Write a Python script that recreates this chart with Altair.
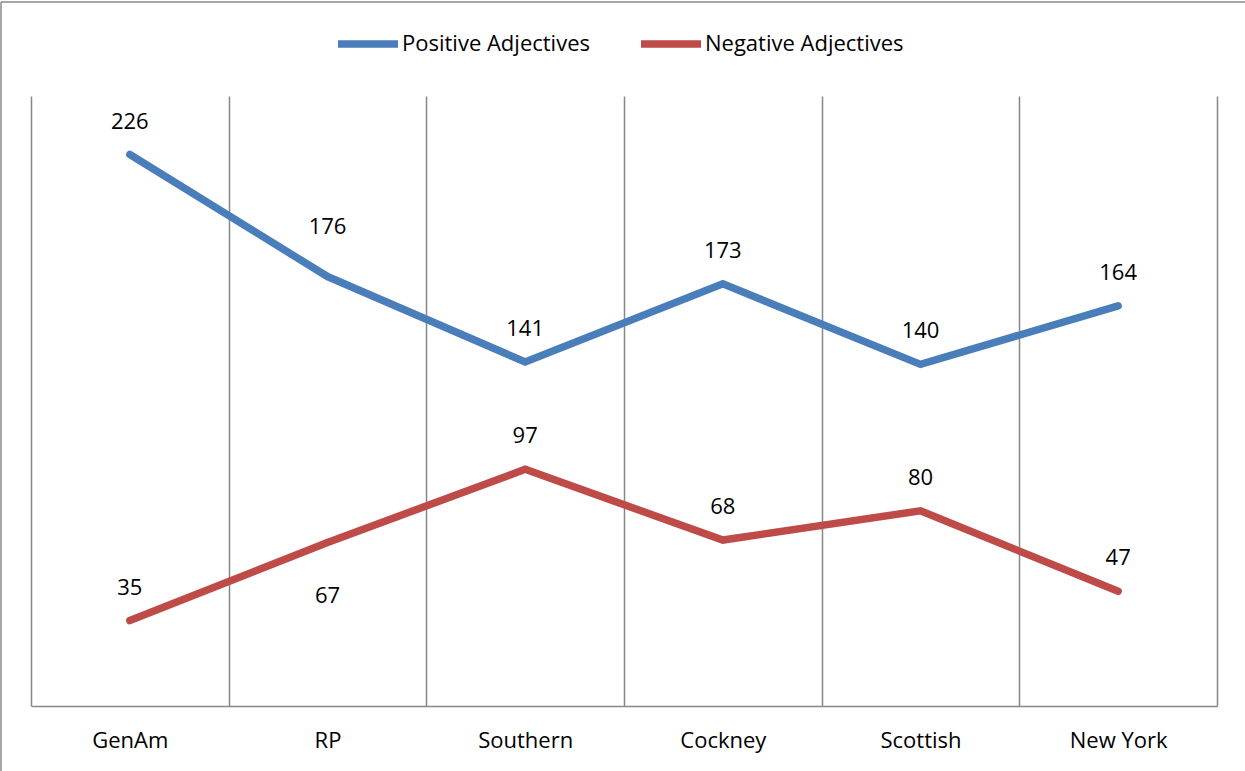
import altair as alt
import pandas as pd

# Adjective counts per accent
accents = ["GenAm", "RP", "Southern", "Cockney", "Scottish", "New York"]
positive = [226, 176, 141, 173, 140, 164]
negative = [35, 67, 97, 68, 80, 47]
series_names = ["Positive Adjectives", "Negative Adjectives"]
series_colors = ["#4A7EBB", "#BE4B48"]

rows = []
for accent, p, n in zip(accents, positive, negative):
    rows.append({"accent": accent, "series": series_names[0], "count": p})
    rows.append({"accent": accent, "series": series_names[1], "count": n})
df = pd.DataFrame(rows)

# label placement: most labels sit just above their point, a couple are moved
label_shift = {(series_names[0], "RP"): "raised", (series_names[1], "RP"): "below"}
df["place"] = [label_shift.get((s, a), "above") for s, a in zip(df["series"], df["accent"])]

FONT = "Open Sans"
GRID = "#878787"

x_enc = alt.X(
    "accent:N",
    sort=accents,
    scale=alt.Scale(paddingInner=0, paddingOuter=0),
    axis=alt.Axis(
        title=None,
        labelAngle=0,
        ticks=False,
        grid=True,
        tickBand="extent",
        gridColor=GRID,
        gridWidth=1.5,
        domainColor=GRID,
        domainWidth=1.5,
        labelFont=FONT,
        labelFontSize=22,
        labelColor="#000000",
        labelPadding=24,
    ),
)
y_enc = alt.Y("count:Q", scale=alt.Scale(domain=[0, 250], nice=False, zero=True), axis=None)
color_enc = alt.Color(
    "series:N",
    sort=series_names,
    scale=alt.Scale(domain=series_names, range=series_colors),
    legend=alt.Legend(
        title=None,
        orient="none",
        direction="horizontal",
        legendX=303,
        legendY=-86,
        symbolType="stroke",
        symbolSize=3600,
        symbolStrokeWidth=7.5,
        labelFont=FONT,
        labelFontSize=22,
        labelColor="#000000",
        labelOffset=0,
        labelLimit=500,
        columnPadding=36,
    ),
)

base = alt.Chart(df)

lines = base.mark_line(strokeWidth=7.5, strokeCap="round", strokeJoin="miter").encode(
    x=x_enc, y=y_enc, color=color_enc
)

text_style = dict(font=FONT, fontSize=22, color="#000000", baseline="middle", align="center")
labels_above = base.transform_filter(alt.datum.place == "above").mark_text(dy=-33, **text_style).encode(
    x=alt.X("accent:N", sort=accents), y="count:Q", text="count:Q"
)
labels_raised = base.transform_filter(alt.datum.place == "raised").mark_text(dy=-50, **text_style).encode(
    x=alt.X("accent:N", sort=accents), y="count:Q", text="count:Q"
)
labels_below = base.transform_filter(alt.datum.place == "below").mark_text(dy=53, **text_style).encode(
    x=alt.X("accent:N", sort=accents), y="count:Q", text="count:Q"
)

# outer chart frame (left and top edges)
frame_src = alt.Chart(pd.DataFrame({"k": [0]}))
frame_left = frame_src.mark_rule(color="#8a8a8a", strokeWidth=1.5).encode(
    x=alt.value(-30), y=alt.value(-94), y2=alt.value(675)
)
frame_top = frame_src.mark_rule(color="#8a8a8a", strokeWidth=1.5).encode(
    x=alt.value(-30), x2=alt.value(1214), y=alt.value(-94)
)

chart = (
    alt.layer(lines, labels_above, labels_raised, labels_below, frame_left, frame_top)
    .properties(
        width=1186,
        height=610,
        autosize=alt.AutoSizeParams(type="none"),
        padding={"left": 31, "top": 96, "right": 28, "bottom": 65},
        background="#ffffff",
    )
    .configure_view(stroke=None)
)

chart.save("out.html", embed_options={"renderer": "svg", "actions": False})
